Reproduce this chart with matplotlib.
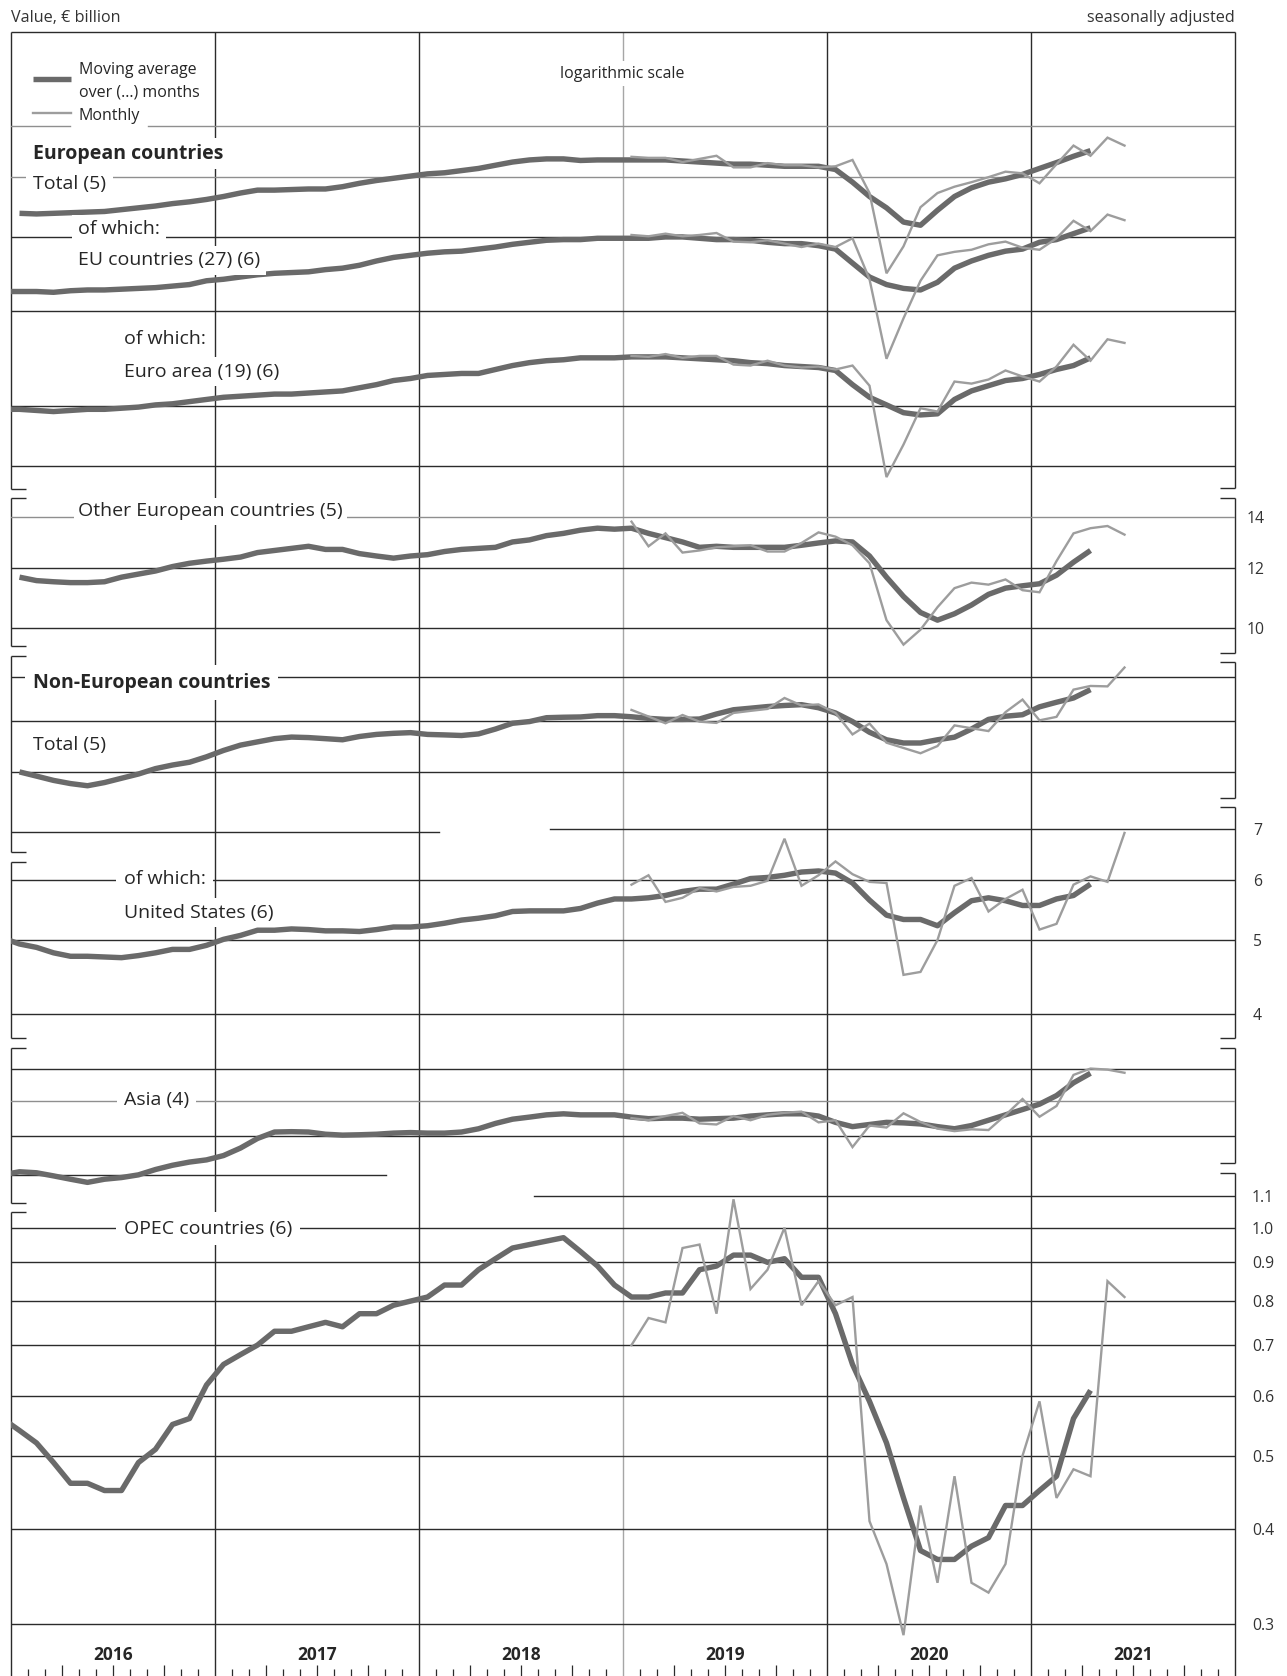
import numpy as np
import matplotlib
matplotlib.use("Agg")
import matplotlib.pyplot as plt
from matplotlib.lines import Line2D

plt.rcParams['font.family'] = ['Open Sans', 'DejaVu Sans']

nan = np.nan
# ---------------- data (monthly, € billion) ----------------
# moving averages: Dec 2015 .. Apr 2021 ; monthly: Jan 2019 .. Jun 2021
years = ["2016", "2017", "2018", "2019", "2020", "2021"]

eur_total_ma = [nan, 53.7, 53.6, 53.7, 53.8, 53.9, 54.0, 54.3, 54.6, 54.9, 55.3, 55.6, 56.0, 56.5, 57.1, 57.6, 57.6,
                57.7, 57.8, 57.8, 58.2, 58.8, 59.3, 59.7, 60.1, 60.5, 60.7, 61.1, 61.5, 62.1, 62.7, 63.1, 63.3, 63.3,
                63.0, 63.1, 63.1, 63.1, 63.1, 63.1, 62.9, 62.7, 62.5, 62.3, 62.3, 62.1, 61.9, 61.9, 61.9, 61.3, 59.0,
                56.5, 54.6, 52.3, 51.8, 54.2, 56.5, 58.0, 59.0, 59.6, 60.4, 61.5, 62.6, 63.8, 64.9]
eur_total_m = [63.7, 63.5, 63.5, 62.7, 63.3, 63.9, 61.7, 61.7, 62.5, 62.1, 62.1, 61.7, 61.9, 63.1, 57.1, 44.8, 48.6,
               54.7, 57.1, 58.2, 59.0, 59.9, 60.9, 60.6, 58.8, 62.3, 65.9, 63.9, 67.5, 65.9]

eu_ma = [42.4, 42.4, 42.4, 42.3, 42.5, 42.6, 42.6, 42.7, 42.8, 42.9, 43.1, 43.3, 43.8, 44.0, 44.3, 44.6, 44.8, 44.9,
         45.0, 45.3, 45.5, 45.9, 46.5, 47.0, 47.3, 47.6, 47.8, 47.9, 48.2, 48.5, 48.9, 49.2, 49.5, 49.6, 49.6, 49.8,
         49.8, 49.8, 49.8, 50.0, 50.0, 49.8, 49.6, 49.6, 49.5, 49.2, 49.0, 49.0, 48.7, 48.2, 46.2, 44.3, 43.3, 42.8,
         42.6, 43.6, 45.5, 46.5, 47.3, 47.9, 48.2, 49.2, 49.6, 50.5, 51.4]
eu_m = [50.3, 50.1, 50.5, 50.1, 50.3, 50.6, 49.3, 49.2, 49.5, 49.0, 48.5, 49.0, 48.5, 49.8, 44.0, 34.6, 39.1, 43.8,
        47.3, 47.8, 48.1, 48.9, 49.3, 48.4, 48.1, 49.8, 52.5, 50.9, 53.5, 52.6]

euro_ma = [29.7, 29.7, 29.6, 29.5, 29.6, 29.7, 29.7, 29.8, 29.9, 30.1, 30.2, 30.4, 30.6, 30.8, 30.9, 31.0, 31.1, 31.1,
           31.2, 31.3, 31.4, 31.7, 32.0, 32.4, 32.6, 32.9, 33.0, 33.1, 33.1, 33.5, 33.9, 34.2, 34.4, 34.5, 34.7, 34.7,
           34.7, 34.8, 34.8, 34.8, 34.7, 34.6, 34.5, 34.4, 34.2, 34.1, 33.9, 33.8, 33.7, 33.4, 32.0, 30.8, 30.1, 29.4,
           29.2, 29.3, 30.6, 31.4, 31.9, 32.4, 32.6, 33.0, 33.5, 33.9, 34.7]
euro_m = [34.9, 34.8, 35.1, 34.7, 34.9, 34.9, 34.0, 33.9, 34.4, 33.9, 33.7, 33.8, 33.5, 33.9, 31.9, 24.2, 26.7, 29.8,
          29.5, 32.3, 32.1, 32.5, 33.4, 32.8, 32.3, 33.8, 36.1, 34.4, 36.7, 36.3]

oeu_ma = [nan, 11.66, 11.54, 11.50, 11.47, 11.47, 11.50, 11.66, 11.77, 11.88, 12.04, 12.16, 12.24, 12.31, 12.39, 12.56,
          12.64, 12.72, 12.80, 12.68, 12.68, 12.52, 12.43, 12.35, 12.43, 12.48, 12.60, 12.68, 12.72, 12.76, 12.97,
          13.05, 13.22, 13.31, 13.44, 13.52, 13.48, 13.52, 13.31, 13.14, 12.97, 12.76, 12.80, 12.76, 12.76, 12.76,
          12.76, 12.84, 12.93, 13.01, 12.97, 12.43, 11.66, 11.00, 10.48, 10.24, 10.44, 10.72, 11.07, 11.28, 11.36,
          11.43, 11.73, 12.20, 12.64]
oeu_m = [13.79, 12.80, 13.31, 12.56, 12.64, 12.76, 12.80, 12.84, 12.60, 12.60, 12.93, 13.35, 13.18, 12.84, 12.16,
         10.24, 9.51, 9.95, 10.65, 11.28, 11.47, 11.40, 11.58, 11.21, 11.14, 12.24, 13.31, 13.52, 13.61, 13.26]

neu_ma = [nan, 30.01, 29.63, 29.25, 28.97, 28.78, 29.06, 29.44, 29.82, 30.31, 30.64, 30.90, 31.41, 32.02, 32.54, 32.86,
          33.18, 33.34, 33.29, 33.18, 33.07, 33.40, 33.61, 33.72, 33.79, 33.61, 33.56, 33.50, 33.66, 34.16, 34.76,
          34.94, 35.35, 35.40, 35.43, 35.57, 35.57, 35.45, 35.28, 35.17, 35.17, 35.21, 35.75, 36.21, 36.38, 36.56,
          36.68, 36.77, 36.43, 35.86, 34.94, 33.83, 33.07, 32.75, 32.75, 33.07, 33.33, 34.16, 35.17, 35.51, 35.67,
          36.53, 37.04, 37.52, 38.48]
neu_m = [36.19, 35.48, 34.76, 35.64, 34.93, 34.80, 35.86, 36.09, 36.30, 37.52, 36.68, 36.80, 35.86, 33.61, 34.73,
         32.78, 32.26, 31.75, 32.45, 34.54, 34.24, 33.95, 35.95, 37.34, 35.07, 35.44, 38.48, 38.91, 38.86, 41.14]

us_ma = [5.03, 4.94, 4.89, 4.81, 4.76, 4.76, 4.75, 4.74, 4.77, 4.81, 4.86, 4.86, 4.92, 5.01, 5.07, 5.15, 5.15, 5.17,
         5.16, 5.14, 5.14, 5.13, 5.16, 5.20, 5.20, 5.22, 5.26, 5.31, 5.34, 5.38, 5.45, 5.46, 5.46, 5.46, 5.50, 5.59,
         5.66, 5.66, 5.68, 5.72, 5.79, 5.83, 5.83, 5.92, 6.02, 6.04, 6.08, 6.14, 6.16, 6.12, 5.94, 5.64, 5.39, 5.32,
         5.32, 5.22, 5.43, 5.63, 5.68, 5.63, 5.55, 5.55, 5.66, 5.72, 5.92]
us_m = [5.91, 6.08, 5.61, 5.68, 5.85, 5.79, 5.87, 5.89, 5.98, 6.79, 5.89, 6.08, 6.34, 6.10, 5.96, 5.94, 4.50, 4.54,
        5.00, 5.89, 6.03, 5.45, 5.66, 5.82, 5.16, 5.25, 5.91, 6.06, 5.96, 6.91]

asia_ma = [16.00, 16.15, 16.10, 15.95, 15.79, 15.64, 15.79, 15.87, 16.00, 16.26, 16.47, 16.63, 16.74, 16.96, 17.35,
           17.86, 18.21, 18.23, 18.21, 18.09, 18.04, 18.06, 18.09, 18.15, 18.18, 18.15, 18.15, 18.21, 18.39, 18.69,
           18.93, 19.05, 19.18, 19.24, 19.18, 19.18, 19.18, 19.05, 18.96, 18.99, 18.99, 18.93, 18.96, 18.99, 19.11,
           19.18, 19.24, 19.24, 19.11, 18.75, 18.51, 18.63, 18.75, 18.72, 18.66, 18.51, 18.39, 18.57, 18.87, 19.18,
           19.49, 19.81, 20.33, 21.13, 21.75]
asia_m = [18.99, 18.87, 19.11, 19.30, 18.69, 18.63, 19.11, 18.87, 19.18, 19.30, 19.37, 18.75, 18.87, 17.40, 18.57,
          18.46, 19.27, 18.77, 18.40, 18.26, 18.36, 18.32, 19.17, 20.12, 19.07, 19.70, 21.64, 22.06, 21.99, 21.78]

opec_ma = [0.56, 0.54, 0.52, 0.49, 0.46, 0.46, 0.45, 0.45, 0.49, 0.51, 0.55, 0.56, 0.62, 0.66, 0.68, 0.70, 0.73, 0.73,
           0.74, 0.75, 0.74, 0.77, 0.77, 0.79, 0.80, 0.81, 0.84, 0.84, 0.88, 0.91, 0.94, 0.95, 0.96, 0.97, 0.93, 0.89,
           0.84, 0.81, 0.81, 0.82, 0.82, 0.88, 0.89, 0.92, 0.92, 0.90, 0.91, 0.86, 0.86, 0.77, 0.66, 0.59, 0.52, 0.44,
           0.375, 0.365, 0.365, 0.38, 0.39, 0.43, 0.43, 0.45, 0.47, 0.56, 0.61]
opec_m = [0.70, 0.76, 0.75, 0.94, 0.95, 0.77, 1.09, 0.83, 0.88, 1.00, 0.79, 0.85, 0.79, 0.81, 0.41, 0.36, 0.29, 0.43,
          0.34, 0.47, 0.34, 0.33, 0.36, 0.50, 0.59, 0.44, 0.48, 0.47, 0.85, 0.81]

oeu_ticks = [14, 12, 10]
us_ticks = [7, 6, 5, 4]
opec_ticks = [1.1, 1.0, 0.9, 0.8, 0.7, 0.6, 0.5, 0.4, 0.3]

# ---------------- layout ----------------
W, H, DPI = 1287, 1676, 100
X0, X1 = 11, 1235
KPX = 762.0
MA_C, M_C = '#6a6a6a', '#9d9d9d'
GRID_C, GRID_L = '#2b2b2b', '#8f8f8f'
TXT = '#262626'
DY = 2.5  # text baseline correction (px)

fig = plt.figure(figsize=(W / DPI, H / DPI), dpi=DPI)


def fx(px):
    return px / W


def fy(py):
    return 1 - py / H


# frame / decoration axes (x in months, y in pixel rows)
fa = fig.add_axes([fx(X0), fy(1676), fx(X1) - fx(X0), fy(32) - fy(1676)])
fa.set_xlim(0, 72)
fa.set_ylim(1676, 32)
fa.axis('off')
PXM = (X1 - X0) / 72.0  # pixels per month

for k in range(1, 6):
    fa.vlines(12 * k, 32, 1676, color=('#a6a6a6' if k == 3 else GRID_C), lw=1.0, zorder=1)
for m in range(1, 72):
    if m % 12 == 0:
        continue
    ln = 11 if m % 3 == 0 else 7
    fa.vlines(m, 1676 - ln, 1676, color=GRID_C, lw=0.9, clip_on=False)
fa.hlines(32, 0, 72, color=GRID_C, lw=1.0, clip_on=False)

left_seg = [(32, 489), (498, 646), (656, 852), (862, 1038), (1048, 1203), (1212, 1676)]
right_seg = [(32, 488), (498, 653), (662, 798), (807, 1038), (1048, 1163), (1173, 1676)]
stub = 15 / PXM
for xs, segs, d in [(0, left_seg, 1), (72, right_seg, -1)]:
    for a, b in segs:
        fa.vlines(xs, a, b, color=GRID_C, lw=1.0, clip_on=False)
        if a > 32:
            fa.hlines(a, xs, xs + d * stub, color=GRID_C, lw=1.0, clip_on=False)
        if b < 1676:
            fa.hlines(b, xs, xs + d * stub, color=GRID_C, lw=1.0, clip_on=False)

for k, yr in enumerate(years):
    fa.text(12 * k + 6, 1652 + DY, yr, ha='center', va='center', fontsize=12.5, fontweight='bold', color=TXT)

x_ma = np.arange(-1, 64) + 0.5
x_m = np.arange(36, 66) + 0.5


def panel(top, bot, ref_v, ref_px, k=KPX):
    ax = fig.add_axes([fx(X0), fy(bot), fx(X1) - fx(X0), fy(top) - fy(bot)])
    ax.set_yscale('log')
    ax.set_xlim(0, 72)
    ax.set_ylim(ref_v * 10 ** ((ref_px - bot) / k), ref_v * 10 ** ((ref_px - top) / k))
    ax.axis('off')
    ax.patch.set_alpha(0)
    return ax


def grid(ax, v, x0=X0, x1=X1, c=GRID_C):
    ax.axhline(v, xmin=(x0 - X0) / (X1 - X0), xmax=(x1 - X0) / (X1 - X0), color=c, lw=1.0, zorder=1)


def series(ax, ma, mo):
    ax.plot(x_ma, ma, color=MA_C, lw=3.9, solid_capstyle='butt', solid_joinstyle='round', zorder=3)
    ax.plot(x_m, mo, color=M_C, lw=1.7, solid_joinstyle='miter', zorder=4)


def rlabels(ax, vals, xpx, fmt):
    for v in vals:
        ax.text(1 + (xpx - X1) / (X1 - X0), v, fmt(v), transform=ax.get_yaxis_transform(), ha='left',
                va='center_baseline', fontsize=11.3, color='#333333', clip_on=False)


# European countries
ax_e = panel(32, 489, 30, 406)
grid(ax_e, 70, X0, 70, GRID_L)
grid(ax_e, 70, 148, X1, GRID_L)
grid(ax_e, 60, c=GRID_L)
for v in [50, 40, 30, 25]:
    grid(ax_e, v)
series(ax_e, eur_total_ma, eur_total_m)
series(ax_e, eu_ma, eu_m)
series(ax_e, euro_ma, euro_m)

# Other European countries
ax_o = panel(498, 653, 10, 628)
grid(ax_o, 14, c=GRID_L)
grid(ax_o, 12)
grid(ax_o, 10)
series(ax_o, oeu_ma, oeu_m)
rlabels(ax_o, oeu_ticks, 1247, lambda v: f"{v:d}")

# Non-European countries
ax_n = panel(656, 852, 35, 721)
for v in [40, 35, 30]:
    grid(ax_n, v)
grid(ax_n, 25, X0, 439)
series(ax_n, neu_ma, neu_m)

# United States
ax_u = panel(807, 1038, 5, 940)
grid(ax_u, 7, 550, X1)
for v in [6, 5, 4]:
    grid(ax_u, v)
series(ax_u, us_ma, us_m)
rlabels(ax_u, us_ticks, 1253, lambda v: f"{v:d}")

# Asia
ax_a = panel(1048, 1203, 20, 1101)
grid(ax_a, 22)
grid(ax_a, 20, c=GRID_L)
grid(ax_a, 18)
grid(ax_a, 16, X0, 386)
series(ax_a, asia_ma, asia_m)

# OPEC
ax_p = panel(1173, 1676, 0.3, 1624, k=758.0)
grid(ax_p, 1.1, 534, X1)
for v in opec_ticks[1:]:
    grid(ax_p, v)
series(ax_p, opec_ma, opec_m)
rlabels(ax_p, opec_ticks, 1252, lambda v: f"{v:.1f}")

# ---------------- texts ----------------


def label(x, y, s, size=14, bold=False, box=True, ha='left', pad=4.0):
    fig.text(fx(x), fy(y + DY), s, ha=ha, va='center', fontsize=size, color=TXT,
             fontweight='bold' if bold else 'normal',
             bbox=dict(fc='white', ec='none', pad=pad) if box else None, zorder=5)


fig.text(fx(11), fy(15 + DY), "Value, € billion", ha='left', va='center', fontsize=11.6, color='#333333')
fig.text(fx(1235), fy(15 + DY), "seasonally adjusted", ha='right', va='center', fontsize=11.6, color='#333333')
label(622, 71, "logarithmic scale", size=11.4, ha='center', pad=3)

fig.add_artist(Line2D([fx(33), fx(71)], [fy(79), fy(79)], color=MA_C, lw=3.9, solid_capstyle='butt'))
fig.add_artist(Line2D([fx(33), fx(71)], [fy(113), fy(113)], color=M_C, lw=1.7))
label(79, 67, "Moving average", size=11.5, box=False)
label(79, 90, "over (...) months", size=11.5, box=False)
label(79, 113, "Monthly", size=11.5, box=False)

label(33, 151, "European countries", bold=True)
label(33, 181, "Total (5)", pad=5)
label(78, 227, "of which:")
label(78, 258, "EU countries (27) (6)")
label(124, 337, "of which:")
label(124, 369, "Euro area (19) (6)")
label(78, 509, "Other European countries (5)", pad=3)
label(33, 680, "Non-European countries", bold=True, pad=5.5)
label(33, 742, "Total (5)")
label(124, 876, "of which:", pad=5.5)
label(124, 910, "United States (6)")
label(124, 1097, "Asia (4)", pad=5)
label(124, 1226, "OPEC countries (6)", pad=5.5)

fig.savefig("out.png", dpi=DPI)
